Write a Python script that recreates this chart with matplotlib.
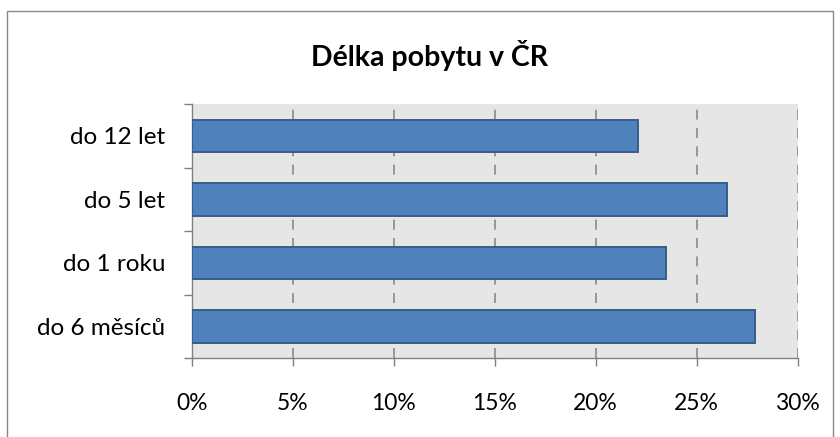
import numpy as np
import matplotlib.pyplot as plt
from matplotlib.patches import Rectangle

categories = ["do 6 měsíců", "do 1 roku", "do 5 let", "do 12 let"]
values = [27.9, 23.5, 26.5, 22.1]
xticks = [0, 5, 10, 15, 20, 25, 30]
xlabels = ["0%", "5%", "10%", "15%", "20%", "25%", "30%"]

plt.rcParams['font.family'] = ['Lato', 'DejaVu Sans']

fig = plt.figure(figsize=(8.4, 4.37), dpi=100)
ax = fig.add_axes([0.2282, 0.180, 0.7214, 0.582])
ax.set_facecolor('#e6e6e6')

y = np.arange(len(categories))
ax.barh(y, values, height=0.51, color='#4f81bd', edgecolor='#385d8a', linewidth=1.4, zorder=3)

ax.set_xlim(0, 30)
ax.set_ylim(-0.5, len(categories) - 0.5)
ax.set_xticks(xticks)
ax.set_xticklabels(xlabels, fontsize=16.5)
ax.set_yticks(y)
ax.set_yticklabels(categories, fontsize=17.5)
ax.set_yticks(np.arange(len(categories) + 1) - 0.5, minor=True)

ax.tick_params(axis='y', which='major', length=0, pad=19)
ax.tick_params(axis='y', which='minor', length=6, width=1, color='#808080', direction='out')
ax.tick_params(axis='x', length=6, width=1, color='#808080', direction='out', pad=19)

for xv in xticks[1:]:
    ax.axvline(xv, color='#8a8a8a', linestyle=(0, (6, 5)), linewidth=1.2, zorder=1)

for side in ['top', 'right']:
    ax.spines[side].set_visible(False)
for side in ['left', 'bottom']:
    ax.spines[side].set_color('#808080')
    ax.spines[side].set_linewidth(1)

fig.text(0.511, 0.872, "Délka pobytu v ČR", fontsize=20.5, fontweight='bold',
         ha='center', va='center')

fig.patches.append(Rectangle((7 / 840, -0.05), 826 / 840, 1.05 - 11 / 437,
                             transform=fig.transFigure, fill=False,
                             edgecolor='#888888', linewidth=1))

fig.savefig("out.png", dpi=100)
